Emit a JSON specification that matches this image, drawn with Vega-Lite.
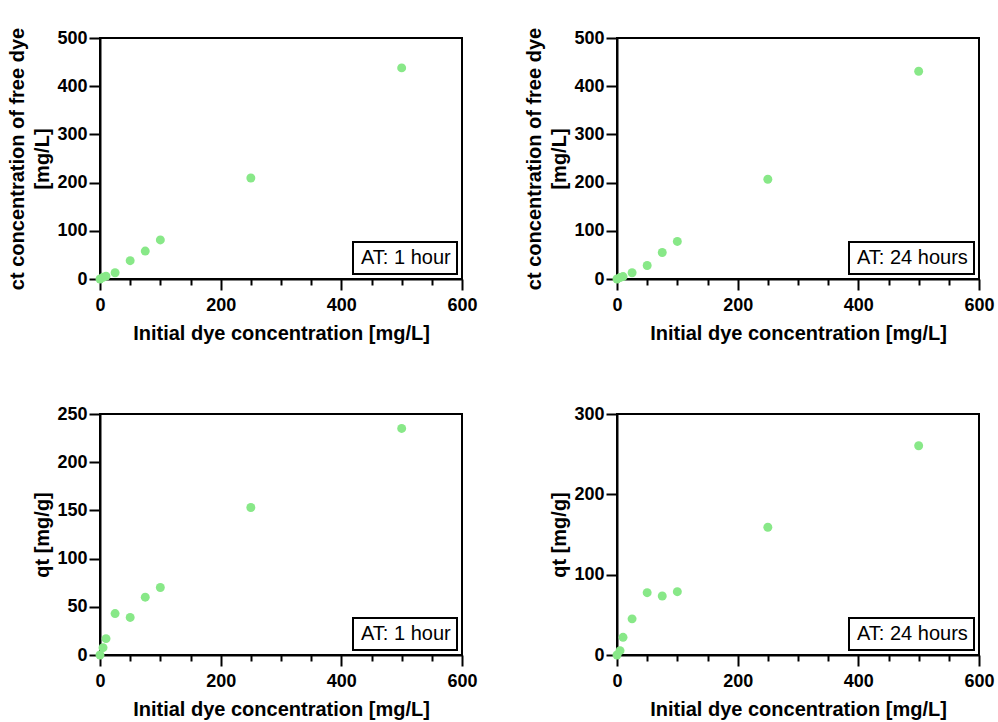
{
  "$schema": "https://vega.github.io/schema/vega-lite/v6.json",
  "autosize": {"type": "pad"},
  "padding": {"left": 6, "top": 26, "right": 4, "bottom": 4},
  "background": "white",
  "datasets": {
    "ct1": [
      {"c0": 0, "v": 0, "label": "AT: 1 hour"},
      {"c0": 5, "v": 3.5, "label": "AT: 1 hour"},
      {"c0": 10, "v": 6, "label": "AT: 1 hour"},
      {"c0": 25, "v": 13, "label": "AT: 1 hour"},
      {"c0": 50, "v": 38, "label": "AT: 1 hour"},
      {"c0": 75, "v": 58, "label": "AT: 1 hour"},
      {"c0": 100, "v": 81, "label": "AT: 1 hour"},
      {"c0": 250, "v": 209.5, "label": "AT: 1 hour"},
      {"c0": 500, "v": 438, "label": "AT: 1 hour"}
    ],
    "ct24": [
      {"c0": 0, "v": 0, "label": "AT: 24 hours"},
      {"c0": 5, "v": 3, "label": "AT: 24 hours"},
      {"c0": 10, "v": 5, "label": "AT: 24 hours"},
      {"c0": 25, "v": 13, "label": "AT: 24 hours"},
      {"c0": 50, "v": 28, "label": "AT: 24 hours"},
      {"c0": 75, "v": 55, "label": "AT: 24 hours"},
      {"c0": 100, "v": 78, "label": "AT: 24 hours"},
      {"c0": 250, "v": 207, "label": "AT: 24 hours"},
      {"c0": 500, "v": 431, "label": "AT: 24 hours"}
    ],
    "qt1": [
      {"c0": 0, "v": 0, "label": "AT: 1 hour"},
      {"c0": 5, "v": 7.6, "label": "AT: 1 hour"},
      {"c0": 10, "v": 17, "label": "AT: 1 hour"},
      {"c0": 25, "v": 43, "label": "AT: 1 hour"},
      {"c0": 50, "v": 39, "label": "AT: 1 hour"},
      {"c0": 75, "v": 60, "label": "AT: 1 hour"},
      {"c0": 100, "v": 70, "label": "AT: 1 hour"},
      {"c0": 250, "v": 153, "label": "AT: 1 hour"},
      {"c0": 500, "v": 235, "label": "AT: 1 hour"}
    ],
    "qt24": [
      {"c0": 0, "v": 0, "label": "AT: 24 hours"},
      {"c0": 5, "v": 5.4, "label": "AT: 24 hours"},
      {"c0": 10, "v": 22, "label": "AT: 24 hours"},
      {"c0": 25, "v": 45, "label": "AT: 24 hours"},
      {"c0": 50, "v": 77.6, "label": "AT: 24 hours"},
      {"c0": 75, "v": 73.4, "label": "AT: 24 hours"},
      {"c0": 100, "v": 78.8, "label": "AT: 24 hours"},
      {"c0": 250, "v": 159, "label": "AT: 24 hours"},
      {"c0": 500, "v": 260.5, "label": "AT: 24 hours"}
    ]
  },
  "columns": 2,
  "bounds": "flush",
  "spacing": {"row": 135, "column": 155},
  "resolve": {"scale": {"color": "independent", "y": "independent", "x": "independent"}, "legend": {"color": "independent"}},
  "concat": [
    {
      "width": 362, "height": 241,
      "data": {"name": "ct1"},
      "mark": {"type": "point", "filled": true, "opacity": 1, "clip": false},
      "encoding": {
        "x": {"field": "c0", "type": "quantitative", "scale": {"domain": [0, 600], "nice": false},
              "axis": {"title": "Initial dye concentration [mg/L]"}},
        "y": {"field": "v", "type": "quantitative", "scale": {"domain": [0, 500], "nice": false},
              "axis": {"title": ["ct concentration of free dye", "[mg/L]"], "values": [0, 100, 200, 300, 400, 500]}},
        "size": {"value": 80},
        "color": {"field": "label", "type": "nominal", "scale": {"range": ["#88e888"]}, "legend": {"title": null}}
      }
    },
    {
      "width": 362, "height": 241,
      "data": {"name": "ct24"},
      "mark": {"type": "point", "filled": true, "opacity": 1, "clip": false},
      "encoding": {
        "x": {"field": "c0", "type": "quantitative", "scale": {"domain": [0, 600], "nice": false},
              "axis": {"title": "Initial dye concentration [mg/L]"}},
        "y": {"field": "v", "type": "quantitative", "scale": {"domain": [0, 500], "nice": false},
              "axis": {"title": ["ct concentration of free dye", "[mg/L]"], "values": [0, 100, 200, 300, 400, 500]}},
        "size": {"value": 80},
        "color": {"field": "label", "type": "nominal", "scale": {"range": ["#88e888"]}, "legend": {"title": null}}
      }
    },
    {
      "width": 362, "height": 241,
      "data": {"name": "qt1"},
      "mark": {"type": "point", "filled": true, "opacity": 1, "clip": false},
      "encoding": {
        "x": {"field": "c0", "type": "quantitative", "scale": {"domain": [0, 600], "nice": false},
              "axis": {"title": "Initial dye concentration [mg/L]"}},
        "y": {"field": "v", "type": "quantitative", "scale": {"domain": [0, 250], "nice": false},
              "axis": {"title": "qt [mg/g]", "values": [0, 50, 100, 150, 200, 250]}},
        "size": {"value": 80},
        "color": {"field": "label", "type": "nominal", "scale": {"range": ["#88e888"]}, "legend": {"title": null}}
      }
    },
    {
      "width": 362, "height": 241,
      "data": {"name": "qt24"},
      "mark": {"type": "point", "filled": true, "opacity": 1, "clip": false},
      "encoding": {
        "x": {"field": "c0", "type": "quantitative", "scale": {"domain": [0, 600], "nice": false},
              "axis": {"title": "Initial dye concentration [mg/L]"}},
        "y": {"field": "v", "type": "quantitative", "scale": {"domain": [0, 300], "nice": false},
              "axis": {"title": "qt [mg/g]", "values": [0, 100, 200, 300]}},
        "size": {"value": 80},
        "color": {"field": "label", "type": "nominal", "scale": {"range": ["#88e888"]}, "legend": {"title": null}}
      }
    }
  ],
  "config": {
    "font": "Liberation Sans",
    "view": {"stroke": "black", "strokeWidth": 2},
    "axis": {
      "grid": false,
      "domainColor": "black", "domainWidth": 2,
      "tickColor": "black", "tickWidth": 2,
      "labelFont": "Liberation Sans", "labelFontSize": 18, "labelFontWeight": "bold", "labelColor": "black",
      "titleFont": "Liberation Sans", "titleFontSize": 20, "titleFontWeight": "bold", "titleColor": "black",
      "titleLineHeight": 25,
      "labelOverlap": false, "labelFlush": false
    },
    "axisX": {
      "values": [0, 20, 40, 60, 80, 100, 120, 140, 160, 180, 200, 220, 240, 260, 280, 300, 320, 340, 360, 380, 400, 420, 440, 460, 480, 500, 520, 540, 560, 580, 600],
      "labelExpr": "datum.value % 200 === 0 ? datum.label : ''",
      "tickSize": {"condition": {"test": "datum.value % 200 === 0", "value": 11}, "value": 6},
      "labelPadding": 6,
      "titlePadding": 9
    },
    "axisY": {
      "tickSize": 11, "labelPadding": 2, "titlePadding": 4
    },
    "legend": {
      "orient": "bottom-right", "offset": 5,
      "strokeColor": "black", "strokeWidth": 2, "padding": 6, "fillColor": "white",
      "labelFont": "Liberation Sans", "labelFontSize": 20, "labelColor": "black", "labelFontWeight": "normal",
      "symbolSize": 0, "symbolOpacity": 0, "symbolStrokeWidth": 0, "symbolType": "square", "labelOffset": -18
    }
  }
}
